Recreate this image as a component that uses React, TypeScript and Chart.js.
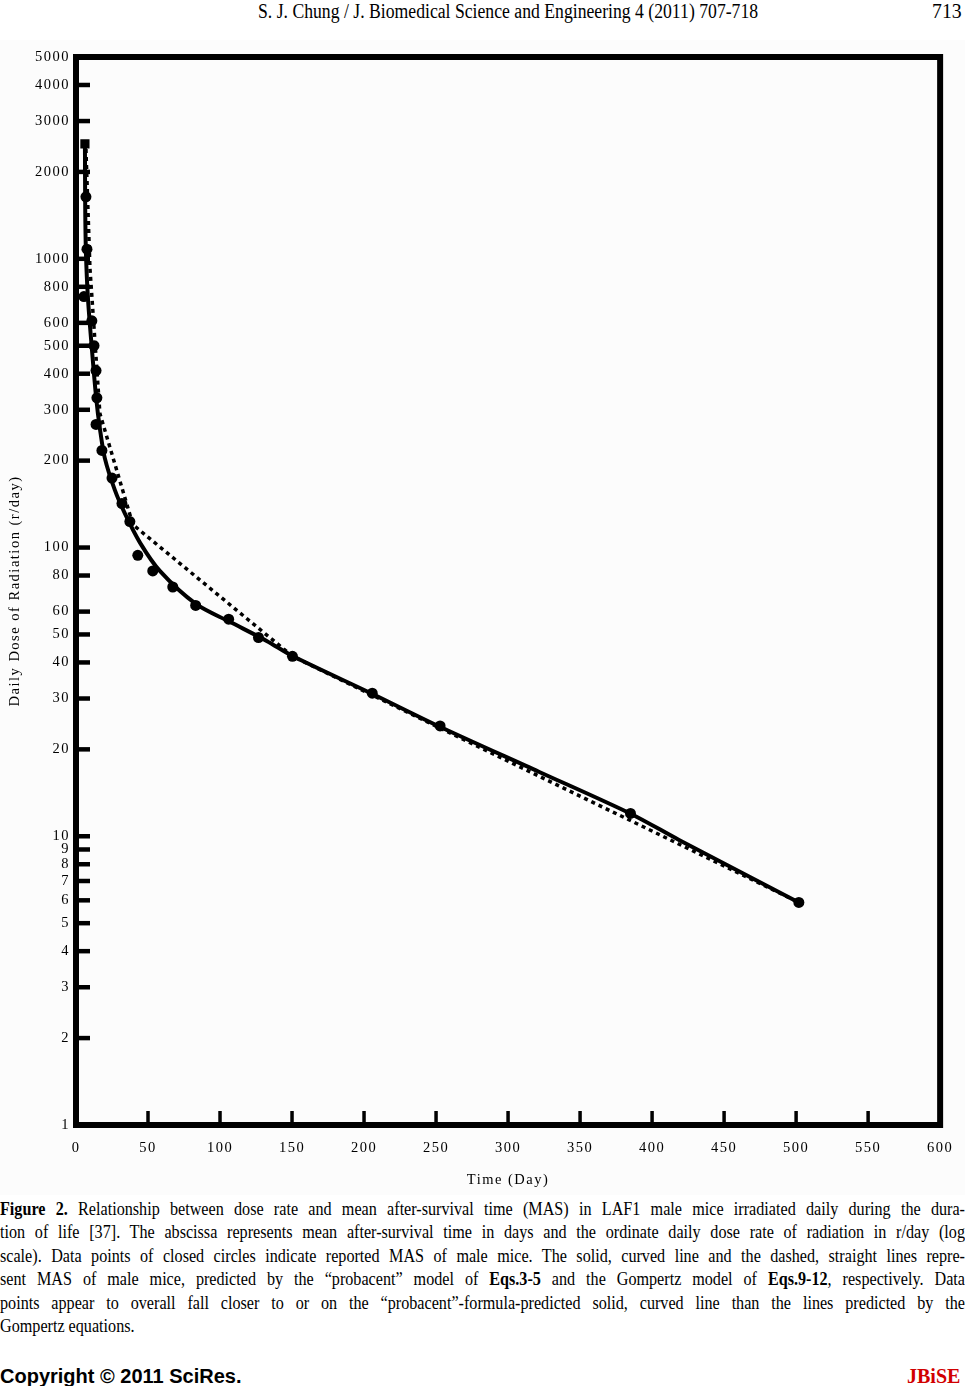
import React, { useEffect, useRef } from 'react';
import { Chart, registerables } from 'chart.js';

Chart.register(...registerables);

// ---------- data ----------
const xTickValues = [0, 50, 100, 150, 200, 250, 300, 350, 400, 450, 500, 550, 600];
const yTickValues = [1, 2, 3, 4, 5, 6, 7, 8, 9, 10, 20, 30, 40, 50, 60, 80, 100, 200, 300, 400, 500, 600, 800, 1000, 2000, 3000, 4000, 5000];

// reported MAS of male mice (closed circles)
const observedTime = [6.2, 6.9, 7.6, 5.5, 11, 12.5, 13.9, 14.5, 13.9, 18, 25, 31.9, 37.4, 42.9, 53.3, 67.2, 83.1, 106, 126.7, 150.3, 205.7, 252.8, 385, 501.9];
const observedDose = [2500, 1640, 1080, 740, 610, 500, 410, 330, 267, 217, 174, 142, 123, 94, 83, 73, 63, 56.5, 48.8, 42, 31.3, 24.1, 12, 5.9];

// "probacent" model (solid curve)
const probacentTime = [6.2, 6.4, 6.9, 8.3, 11, 14, 16.6, 20, 27, 34, 44.4, 58.2, 83.2, 106.8, 132.4, 150.4, 205.9, 253, 321.7, 385.4, 418.7, 501.9];
const probacentDose = [2500, 1500, 1050, 730, 490, 330, 258, 204, 158, 131, 104, 83, 63.8, 55.3, 47.5, 42.1, 31.1, 23.9, 16.7, 11.95, 9.71, 5.9];

// Gompertz model (dashed straight segments)
const gompertzTime = [6.9, 9.7, 16.6, 39.5, 150.4, 501.9];
const gompertzDose = [2400, 924, 291, 120, 42, 5.9];

const xTitle = 'Time (Day)';
const yTitle = 'Daily Dose of Radiation (r/day)';

const SERIF = "'Liberation Serif', 'Times New Roman', serif";

const toXY = (xs: number[], ys: number[]) => xs.map((x, i) => ({ x, y: ys[i] }));

const framePlugin = {
  id: 'framePlugin',
  beforeDraw(chart: any) {
    const { ctx, width, height } = chart;
    ctx.save();
    ctx.fillStyle = '#fcfcfc';
    ctx.fillRect(0, 0, width, height);
    ctx.restore();
    ctx.letterSpacing = '1.5px';
  },
  afterDatasetsDraw(chart: any) {
    const { ctx, chartArea: a, scales } = chart;
    const x = scales.x;
    const y = scales.y;
    ctx.save();
    ctx.letterSpacing = '0px';
    ctx.strokeStyle = '#000';
    ctx.lineWidth = 6;
    ctx.lineJoin = 'miter';
    ctx.strokeRect(a.left, a.top, a.right - a.left, a.bottom - a.top);
    ctx.lineCap = 'butt';
    ctx.lineWidth = 4.5;
    yTickValues.forEach((v) => {
      if (v === 1 || v === 5000) return;
      const py = y.getPixelForValue(v);
      ctx.beginPath();
      ctx.moveTo(a.left, py);
      ctx.lineTo(a.left + 14, py);
      ctx.stroke();
    });
    ctx.lineWidth = 3.5;
    xTickValues.forEach((v) => {
      if (v === 0 || v === 600) return;
      const px = x.getPixelForValue(v);
      ctx.beginPath();
      ctx.moveTo(px, a.bottom);
      ctx.lineTo(px, a.bottom - 14);
      ctx.stroke();
    });
    ctx.restore();
  },
};

const captionLines: React.ReactNode[] = [
  <><b>Figure 2.</b> Relationship between dose rate and mean after-survival time (MAS) in LAF1 male mice irradiated daily during the dura-</>,
  <>tion of life [37]. The abscissa represents mean after-survival time in days and the ordinate daily dose rate of radiation in r/day (log</>,
  <>scale). Data points of closed circles indicate reported MAS of male mice. The solid, curved line and the dashed, straight lines repre-</>,
  <>sent MAS of male mice, predicted by the “probacent” model of <b>Eqs.3-5</b> and the Gompertz model of <b>Eqs.9-12</b>, respectively. Data</>,
  <>points appear to overall fall closer to or on the “probacent”-formula-predicted solid, curved line than the lines predicted by the</>,
  <>Gompertz equations.</>,
];

export default function App() {
  const ref = useRef<HTMLCanvasElement>(null);

  useEffect(() => {
    const canvas = ref.current;
    if (!canvas) return;
    const chart = new Chart(canvas, {
      type: 'scatter',
      data: {
        datasets: [
          {
            label: 'Observed MAS',
            data: toXY(observedTime, observedDose),
            showLine: false,
            backgroundColor: '#000',
            borderColor: '#000',
            pointStyle: (c: any) => (c.dataIndex === 0 ? 'rect' : 'circle'),
            pointRadius: (c: any) => (c.dataIndex === 0 ? 6.5 : 5.5),
            pointBorderWidth: 0,
          },
          {
            label: 'Probacent model',
            data: toXY(probacentTime, probacentDose),
            showLine: true,
            borderColor: '#000',
            borderWidth: 4,
            pointRadius: 0,
            tension: 0.3,
          },
          {
            label: 'Gompertz model',
            data: toXY(gompertzTime, gompertzDose),
            showLine: true,
            borderColor: '#000',
            borderWidth: 3.5,
            borderDash: [4, 4],
            pointRadius: 0,
            tension: 0,
          },
        ],
      },
      options: {
        animation: false,
        responsive: false,
        devicePixelRatio: 1,
        layout: { padding: { top: 17, right: 23.5, left: 0, bottom: 0 } },
        plugins: {
          legend: { display: false },
          tooltip: { enabled: false },
        },
        scales: {
          x: {
            type: 'linear',
            min: 0,
            max: 600,
            afterBuildTicks: (s: any) => {
              s.ticks = xTickValues.map((v) => ({ value: v }));
            },
            afterFit: (s: any) => {
              s.height = 70;
            },
            grid: { display: false, drawTicks: false },
            border: { display: false },
            ticks: {
              autoSkip: false,
              maxRotation: 0,
              padding: 14,
              color: '#000',
              font: { family: SERIF, size: 14.5 },
              callback: (v: any) => String(v),
            },
            title: {
              display: true,
              text: xTitle,
              color: '#000',
              font: { family: SERIF, size: 14.5 },
              padding: { top: 0, bottom: 6 },
            },
          },
          y: {
            type: 'logarithmic',
            min: 1,
            max: 5000,
            afterBuildTicks: (s: any) => {
              s.ticks = yTickValues.map((v) => ({ value: v }));
            },
            afterFit: (s: any) => {
              s.width = 76;
            },
            grid: { display: false, drawTicks: false },
            border: { display: false },
            ticks: {
              autoSkip: false,
              padding: 6,
              color: '#000',
              font: { family: SERIF, size: 14.5 },
              callback: (v: any) => String(v),
            },
            title: {
              display: true,
              text: yTitle,
              color: '#000',
              font: { family: SERIF, size: 14.5 },
              padding: { top: 6, bottom: 0 },
            },
          },
        },
      },
      plugins: [framePlugin],
    } as any);
    return () => chart.destroy();
  }, []);

  const scale = 0.85;
  const lineW = 965 / scale;

  return (
    <div
      style={{
        position: 'absolute',
        left: 0,
        top: 0,
        width: 965,
        height: 1386,
        background: '#fff',
        overflow: 'hidden',
        fontFamily: SERIF,
        color: '#000',
      }}
    >
      <div
        style={{
          position: 'absolute',
          left: 258,
          top: -1,
          fontSize: 20.8,
          lineHeight: '24px',
          whiteSpace: 'nowrap',
          transform: `scaleX(${scale})`,
          transformOrigin: 'left top',
        }}
      >
        S. J. Chung / J. Biomedical Science and Engineering 4 (2011) 707-718
      </div>
      <div
        style={{
          position: 'absolute',
          left: 932,
          top: -1,
          fontSize: 20.8,
          lineHeight: '24px',
          whiteSpace: 'nowrap',
          transform: `scaleX(0.95)`,
          transformOrigin: 'left top',
        }}
      >
        713
      </div>

      <canvas
        ref={ref}
        width={965}
        height={1155}
        style={{ position: 'absolute', left: 0, top: 40, width: 965, height: 1155 }}
      />

      {captionLines.map((line, i) => (
        <div
          key={i}
          style={{
            position: 'absolute',
            left: 0,
            top: 1197 + i * 23.4,
            width: lineW,
            fontSize: 19,
            lineHeight: '23.4px',
            textAlign: 'justify',
            textAlignLast: i === captionLines.length - 1 ? 'left' : 'justify',
            transform: `scaleX(${scale})`,
            transformOrigin: 'left top',
          }}
        >
          {line}
        </div>
      ))}

      <div
        style={{
          position: 'absolute',
          left: 0,
          top: 1364,
          fontFamily: "'Liberation Sans', Arial, sans-serif",
          fontWeight: 'bold',
          fontSize: 20,
          lineHeight: '24px',
          whiteSpace: 'nowrap',
        }}
      >
        Copyright © 2011 SciRes.
      </div>
      <div
        style={{
          position: 'absolute',
          left: 907,
          top: 1364,
          fontFamily: SERIF,
          fontWeight: 'bold',
          fontSize: 20,
          lineHeight: '24px',
          color: '#d10000',
          whiteSpace: 'nowrap',
        }}
      >
        JBiSE
      </div>
    </div>
  );
}
